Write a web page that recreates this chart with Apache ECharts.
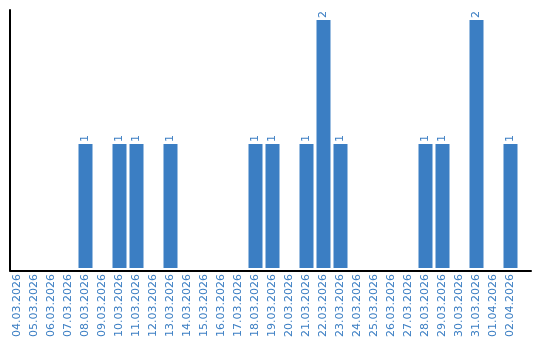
<!DOCTYPE html>
<html><head><meta charset="utf-8">
<script src="https://cdn.jsdelivr.net/npm/echarts@6/dist/echarts.min.js"></script>
<style>html,body{margin:0;padding:0;background:#fff}#c{width:540px;height:340px}</style>
</head><body><div id="c"></div>
<script>
var categories = ["04.03.2026","05.03.2026","06.03.2026","07.03.2026","08.03.2026","09.03.2026","10.03.2026","11.03.2026","12.03.2026","13.03.2026","14.03.2026","15.03.2026","16.03.2026","17.03.2026","18.03.2026","19.03.2026","20.03.2026","21.03.2026","22.03.2026","23.03.2026","24.03.2026","25.03.2026","26.03.2026","27.03.2026","28.03.2026","29.03.2026","30.03.2026","31.03.2026","01.04.2026","02.04.2026"];
var values = [0,0,0,0,1,0,1,1,0,1,0,0,0,0,1,1,0,1,2,1,0,0,0,0,1,1,0,2,0,1];
var blue = '#3b7ec3';
var chart = echarts.init(document.getElementById('c'), null, {renderer:'canvas'});
chart.setOption({
  animation:false,
  grid:[{left:9, right:21, top:10, bottom:69.5, containLabel:false},
        {left:10, right:9, top:10, bottom:69.5, containLabel:false}],
  xAxis:[{type:'category', data:categories, gridIndex:0,
    axisLine:{show:false},
    axisTick:{show:false},
    axisLabel:{rotate:90, interval:0, color:blue, fontFamily:'DejaVu Sans', fontSize:11, margin:6}},
    {type:'value', gridIndex:1, min:0, max:1, axisLabel:{show:false}, axisTick:{show:false}, splitLine:{show:false},
     axisLine:{show:true, lineStyle:{color:'#000', width:2}}}],
  yAxis:[{type:'value', gridIndex:0, min:0, max:function(v){return v.max*1.04;},
    splitLine:{show:false}, axisLabel:{show:false}, axisTick:{show:false},
    axisLine:{show:false}},
    {type:'value', gridIndex:1, min:0, max:1, splitLine:{show:false}, axisLabel:{show:false}, axisTick:{show:false},
     axisLine:{show:true, lineStyle:{color:'#000', width:2}}}],
  series:[{type:'bar', xAxisIndex:0, yAxisIndex:0, data:values.map(function(v){return v===0?null:v;}), barWidth:14,
    itemStyle:{color:blue},
    label:{show:true, position:'top', rotate:90, align:'left', verticalAlign:'middle', distance:2,
      color:blue, fontFamily:'DejaVu Sans', fontSize:11}}]
});
</script></body></html>
